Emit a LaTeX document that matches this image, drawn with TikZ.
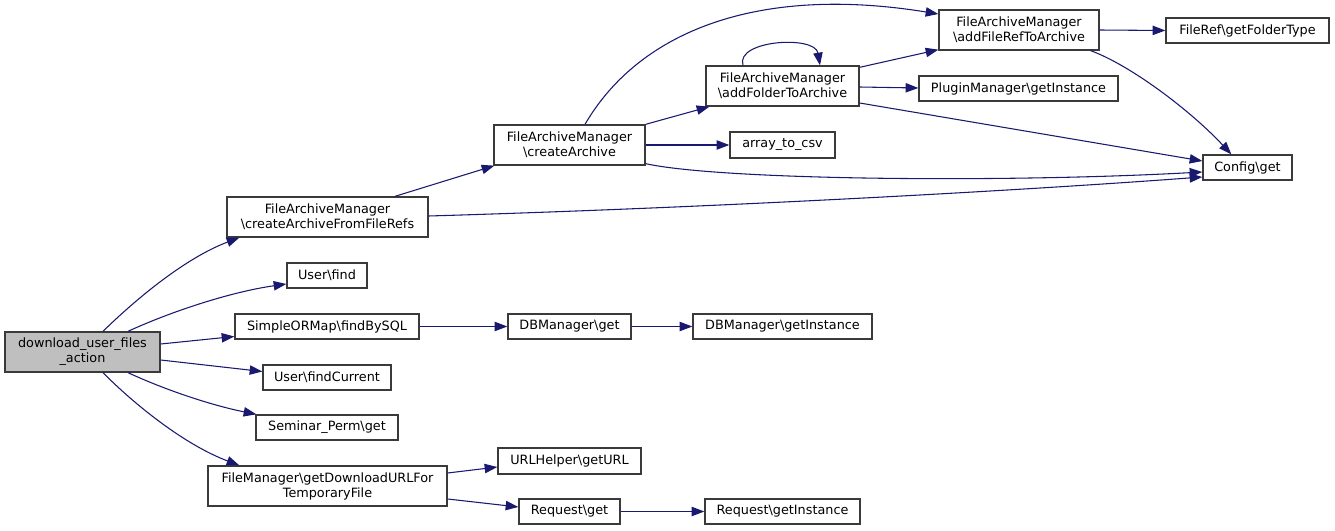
\documentclass[tikz,border=0pt]{standalone}
\usepackage{fontspec}
\setmainfont{DejaVu Sans}
\usetikzlibrary{arrows.meta,calc}
\definecolor{edgec}{HTML}{191970}
\definecolor{borderc}{HTML}{3A3A3A}
\definecolor{fillg}{HTML}{BFBFBF}
\newcommand\us{\char"5F\relax}
\begin{document}
\begin{tikzpicture}[x=0.75pt,y=-0.75pt,
  box/.style={draw=borderc,line width=1pt,fill=white,inner sep=0pt,align=center,
    font=\fontsize{9.6pt}{11.25pt}\selectfont},
  bx/.style 2 args={minimum width=#1*0.75pt,minimum height=#2*0.75pt},
  edge/.style={draw=edgec,line width=0.8pt,-{Triangle[length=9.5pt,width=7pt]},fill=none}]
\useasboundingbox (0,0) rectangle (1335,531);
\fill[white] (0,0) rectangle (1335,531);
% nodes
\node[box,fill=fillg,bx={155}{40}] (dl) at (82.5,352) {download\us user\us files\\\us action};
\node[box,bx={201}{40}] (cafr) at (327.5,217) {FileArchiveManager\\\textbackslash createArchiveFromFileRefs};
\node[box,bx={80}{25}] (ufind) at (327,275.5) {User\textbackslash find};
\node[box,bx={184}{25}] (fbs) at (327,326.5) {SimpleORMap\textbackslash findBySQL};
\node[box,bx={128}{25}] (ufc) at (327,377.5) {User\textbackslash findCurrent};
\node[box,bx={142}{25}] (sp) at (327,427.5) {Seminar\us Perm\textbackslash get};
\node[box,bx={239}{40}] (fm) at (327.5,486) {FileManager\textbackslash getDownloadURLFor\\TemporaryFile};
\node[box,bx={151}{40}] (ca) at (569.5,145) {FileArchiveManager\\\textbackslash createArchive};
\node[box,bx={153}{40}] (afta) at (782.5,86) {FileArchiveManager\\\textbackslash addFolderToArchive};
\node[box,bx={105}{26}] (atc) at (782.5,145) {array\us to\us csv};
\node[box,bx={160}{40}] (afrta) at (1019,30) {FileArchiveManager\\\textbackslash addFileRefToArchive};
\node[box,bx={163}{25}] (frgft) at (1247.5,30.5) {FileRef\textbackslash getFolderType};
\node[box,bx={199}{25}] (pm) at (1018.5,88.5) {PluginManager\textbackslash getInstance};
\node[box,bx={89}{25}] (cfg) at (1247.5,167.5) {Config\textbackslash get};
\node[box,bx={123}{25}] (dbg) at (569.5,326.5) {DBManager\textbackslash get};
\node[box,bx={179}{25}] (dbgi) at (782.5,326.5) {DBManager\textbackslash getInstance};
\node[box,bx={143}{26}] (url) at (569.5,461) {URLHelper\textbackslash getURL};
\node[box,bx={101}{25}] (rg) at (569.5,511.5) {Request\textbackslash get};
\node[box,bx={155}{25}] (rgi) at (782.5,511.5) {Request\textbackslash getInstance};
% edges
\draw[edge] ($(dl.north)+(20.5,0)$) .. controls (135,300) and (185,258) .. ($(cafr.south west)+(13,0)$);
\draw[edge] ($(dl.north)+(45.5,0)$) .. controls (170,312) and (230,292) .. ($(ufind.west)+(0,8.5)$);
\draw[edge] ($(dl.east)+(0,-8)$) -- ($(fbs.west)+(0,10)$);
\draw[edge] ($(dl.east)+(0,8)$) -- ($(ufc.west)+(0,-6)$);
\draw[edge] ($(dl.south)+(45.5,0)$) .. controls (170,392) and (215,406) .. ($(sp.north west)+(1,0)$);
\draw[edge] ($(dl.south)+(20.5,0)$) .. controls (135,405) and (185,445) .. ($(fm.north west)+(32,0)$);
\draw[edge] ($(cafr.north)+(67.5,0)$) -- ($(ca.south west)+(1,0)$);
\draw[edge] ($(cafr.east)+(0,-1)$) .. controls (700,208) and (1000,192) .. ($(cfg.west)+(0,9.5)$);
\draw[edge] (ca.north east) -- ($(afta.south west)+(4,0)$);
\draw[edge] (ca.east) -- (atc.west);
\draw[edge] ($(ca.north)+(15.5,0)$) .. controls (640,30) and (760,-15) .. ($(afrta.west)+(0,-16)$);
\draw[edge] ($(ca.south east)+(0,-2)$) .. controls (720,180) and (1000,183) .. ($(cfg.west)+(0,4.5)$);
\draw[edge] ($(afta.north)+(-39.5,0)$) .. controls (735,40) and (815,35) .. ($(afta.north)+(37.5,0)$);
\draw[edge] ($(afta.north east)+(0,2)$) -- ($(afrta.south west)+(0,-1)$);
\draw[edge] ($(afta.east)+(0,1)$) -- ($(pm.west)+(0,-0.5)$);
\draw[edge] ($(afta.east)+(0,17)$) -- ($(cfg.west)+(0,-6.5)$);
\draw[edge] (afrta.east) -- (frgft.west);
\draw[edge] ($(afrta.south east)+(-9,0)$) .. controls (1130,65) and (1190,110) .. ($(cfg.north west)+(29,0)$);
\draw[edge] (fbs.east) -- (dbg.west);
\draw[edge] (dbg.east) -- (dbgi.west);
\draw[edge] ($(fm.east)+(0,-13)$) -- ($(url.west)+(0,6)$);
\draw[edge] ($(fm.east)+(0,13)$) -- ($(rg.west)+(0,-4.5)$);
\draw[edge] (rg.east) -- (rgi.west);
\end{tikzpicture}
\end{document}
